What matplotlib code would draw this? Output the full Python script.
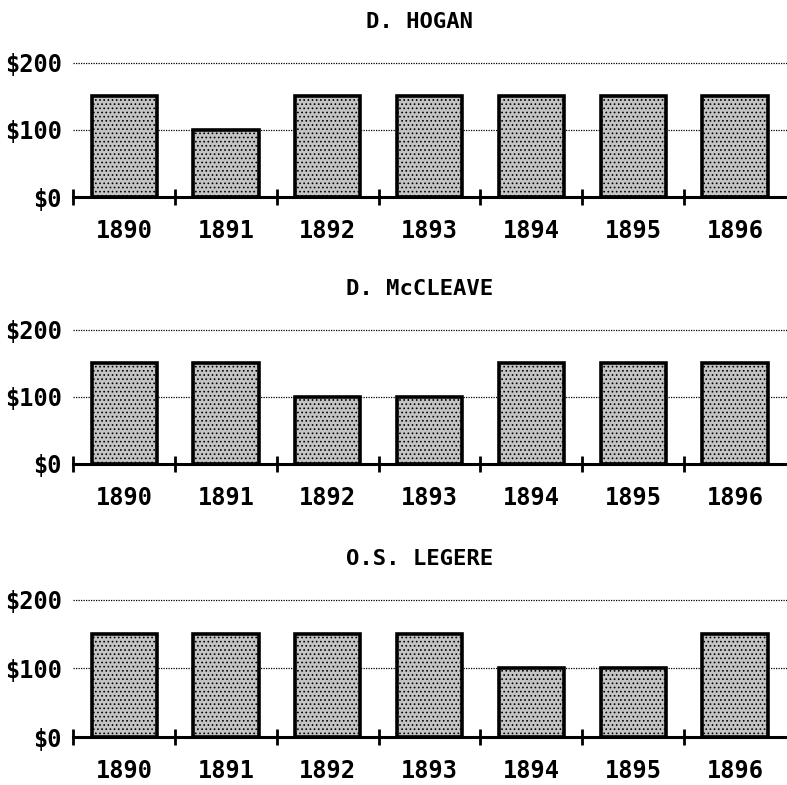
import matplotlib
matplotlib.use("Agg")
import matplotlib.pyplot as plt

years = ["1890", "1891", "1892", "1893", "1894", "1895", "1896"]
names = ["D. HOGAN", "D. McCLEAVE", "O.S. LEGERE"]
hogan = [150, 100, 150, 150, 150, 150, 150]
mccleave = [150, 150, 100, 100, 150, 150, 150]
legere = [150, 150, 150, 150, 100, 100, 150]
yticks = [0, 100, 200]
ylabels = ["$0", "$100", "$200"]

series = [hogan, mccleave, legere]
# bottom / height of each panel in figure fractions
rows = [(0.749, 0.171), (0.409, 0.171), (0.061, 0.175)]

plt.rcParams["font.family"] = "DejaVu Sans Mono"
plt.rcParams["font.weight"] = "bold"
plt.rcParams["hatch.color"] = "#444444"
plt.rcParams["hatch.linewidth"] = 0.7

fig = plt.figure(figsize=(7.87, 7.85), dpi=100)
x = list(range(len(years)))

for name, vals, (b, h) in zip(names, series, rows):
    ax = fig.add_axes([0.093, b, 0.907, h])
    for yv in yticks[1:]:
        ax.axhline(yv, color="black", lw=0.9, ls=(0, (1, 1)), zorder=1, clip_on=False)
    ax.bar(x, vals, width=0.64, facecolor="#c4c4c4", edgecolor="black",
           linewidth=2.6, hatch="....", zorder=2)
    ax.set_xlim(-0.5, 6.51)
    ax.set_ylim(0, 200)
    for s in ["top", "right", "left"]:
        ax.spines[s].set_visible(False)
    ax.spines["bottom"].set_linewidth(2.2)
    ax.spines["bottom"].set_zorder(3)
    ax.set_yticks(yticks)
    ax.set_yticklabels(ylabels, fontsize=17)
    ax.tick_params(axis="y", length=0, pad=8)
    # tick marks sit between categories, labels under the bars
    ax.set_xticks([i - 0.5 for i in x])
    ax.set_xticklabels([])
    ax.set_xticks(x, minor=True)
    ax.set_xticklabels(years, minor=True, fontsize=17)
    ax.tick_params(axis="x", which="major", direction="inout", length=11, width=2)
    ax.tick_params(axis="x", which="minor", length=0, pad=16)
    ax.set_title(name, fontsize=16, fontweight="bold", pad=25, x=0.485)

fig.savefig("out.png", dpi=100)
